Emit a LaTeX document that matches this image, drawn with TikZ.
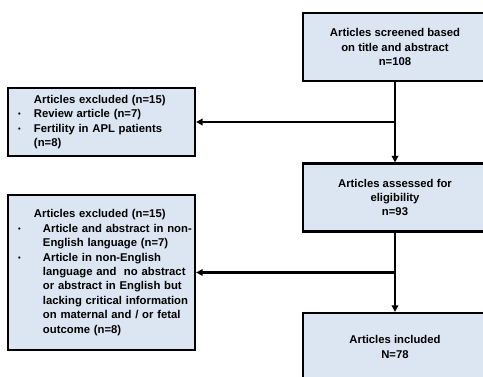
\documentclass[tikz,border=0pt]{standalone}
\usepackage{fontspec}
\setmainfont{Liberation Sans}
\usetikzlibrary{arrows.meta}
\definecolor{boxblue}{HTML}{DCE6F2}
\newcommand{\bul}[1]{\hspace*{10pt}\makebox[#1][l]{\raisebox{1pt}{\fontsize{7.5}{7.5}\selectfont•}}}
\newcommand{\ind}[1]{\hspace*{\dimexpr10pt+#1\relax}}

\begin{document}
\begin{tikzpicture}[x=1pt, y=-1pt,
    flowbox/.style={draw=black, line width=2.2pt, fill=boxblue, inner sep=0pt,
        font=\bfseries\fontsize{11.3}{14.4}\selectfont},
    mainbox/.style={flowbox, minimum width=184pt, minimum height=68pt, align=center},
    exbox/.style={flowbox, text width=187pt, align=left},
    arr/.style={-{Triangle[length=6.5pt, width=6.5pt]}, line width=2.2pt}]
    \useasboundingbox (0,0) rectangle (483,376);

    % Cot chinh
    \node[mainbox] (screen) at (395,47) {Articles screened based\\on title and abstract\\n=108};
    \node[mainbox] (assess) at (395,197.5) {Articles assessed for\\eligibility\\n=93};
    \node[mainbox] (incl) at (395,347) {Articles included\\N=78};

    % Cac bai bi loai
    \node[exbox, minimum height=68pt] (excl1) at (101.5,122) {\ind{16pt}Articles excluded (n=15)\\
        \bul{16pt}Review article (n=7)\\
        \bul{16pt}Fertility in APL patients\\
        \ind{16pt}(n=8)};
    \node[exbox, minimum height=155pt] (excl2) at (101.5,272.5) {\ind{16pt}Articles excluded (n=15)\\
        \bul{25pt}Article and abstract in non-\\
        \ind{25pt}English language (n=7)\\
        \bul{25pt}Article in non-English\\
        \ind{25pt}language and\ \ no abstract\\
        \ind{25pt}or abstract in English but\\
        \ind{25pt}lacking critical information\\
        \ind{25pt}on maternal and / or fetal\\
        \ind{25pt}outcome (n=8)};

    % Mui ten
    \draw[arr] (screen) -- (assess);
    \draw[arr] (assess) -- (incl);
    \draw[arr] (screen.south |- excl1.east) -- (excl1.east);
    \draw[arr] (assess.south |- excl2.east) -- (excl2.east);
\end{tikzpicture}
\end{document}
